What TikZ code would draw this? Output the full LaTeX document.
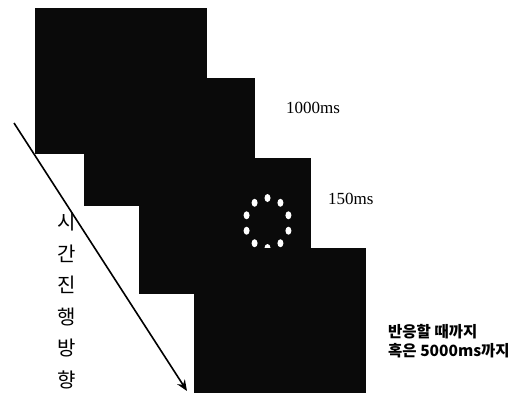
\documentclass[tikz,border=0pt]{standalone}
\usepackage{fontspec}
\setmainfont{Liberation Serif}
\newfontfamily\kr{Noto Sans CJK KR}
\usetikzlibrary{arrows.meta}
\begin{document}
\begin{tikzpicture}[x=1pt,y=-1pt,
  frame/.style={fill=black!96,draw=none,inner sep=0pt,anchor=north west},
  ms/.style={font=\fontsize{17}{17}\selectfont,inner sep=0pt},
  krlab/.style={font=\kr\bfseries\fontsize{15.5}{19}\selectfont,inner sep=0pt,anchor=west,align=left}]
\useasboundingbox (0,0) rectangle (526,392);
\node[frame,minimum width=172pt,minimum height=146pt] (f1) at (35,7.5) {};
\node[frame,minimum width=171pt,minimum height=128pt] (f2) at (83.5,78) {};
\node[frame,minimum width=172pt,minimum height=136pt] (f3) at (138.7,158) {};
\foreach \k in {0,...,9}{
  \fill[white] ({267.5+22*cos(90+36*\k)},{223-25*sin(90+36*\k)}) ellipse (3 and 4);
}
\node[frame,minimum width=172.5pt,minimum height=145pt] (f4) at (193.5,247.7) {};
\node[ms,anchor=west] (t1) at (286,108) {1000ms};
\node[ms,anchor=west] (t2) at (328,199) {150ms};
\node[krlab] (t3) at (388,341) {반응할 때까지\\혹은 5000ms까지};
\node[font=\kr\fontsize{20}{31.5}\selectfont,align=center,inner sep=0pt,anchor=north] (tv) at (67,213) {시\\간\\진\\행\\방\\향};
\coordinate (a0) at (14,123);
\coordinate (a1) at (187,391);
\draw[line width=1.6pt,-{Stealth[length=11pt,width=9pt]}] (a0) -- (a1);
\end{tikzpicture}
\end{document}
